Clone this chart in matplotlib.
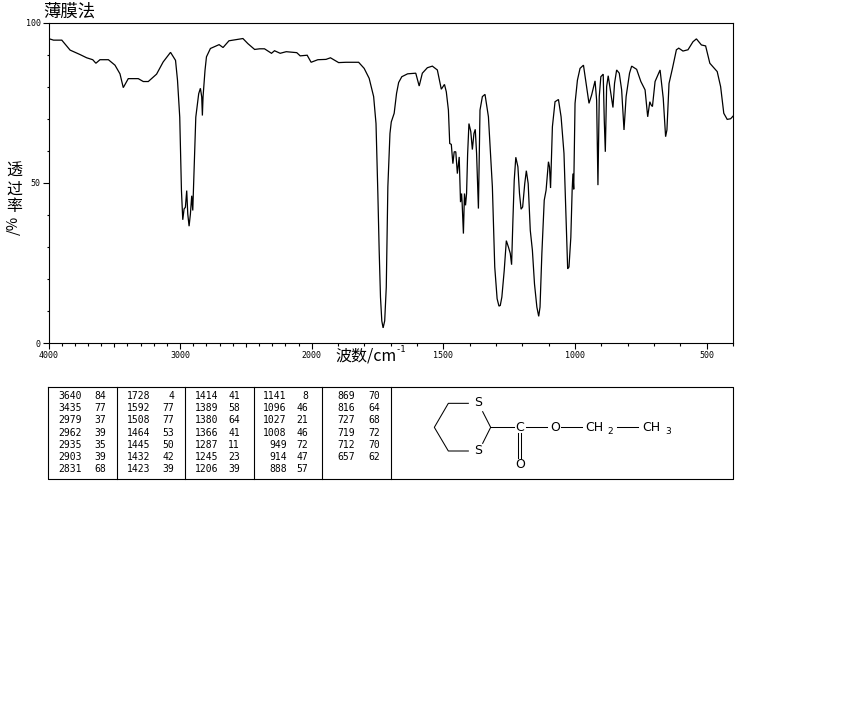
import matplotlib
matplotlib.use("Agg")
import numpy as np
import matplotlib.pyplot as plt
from matplotlib.ticker import FixedLocator, NullFormatter

plt.rcParams['font.family'] = ['Noto Sans CJK SC', 'DejaVu Sans']

W, H = 850, 709

# IR spectrum
wavenumber = [4000,3962,3899,3836,3760,3710,3664,3640,3609,3545,3495,3457,3432,3394,3318,3280,3242,3179,3129,3073,3035,3020,3003,2990,2980,2970,2960,2950,2942,2932,2922,2912,2904,2894,2881,2859,2846,2836,2831,2826,2811,2800,2770,2704,2674,2629,2523,2485,2434,2396,2359,2306,2283,2240,2194,2114,2088,2035,2005,
              1977,1946,1929,1898,1870,1822,1801,1782,1765,1756,1749,1744,1739,1734,1729,1723,1717,1711,1703,1698,1687,1678,1670,1658,1636,1605,1592,1580,1561,1542,1523,1514,1508,1496,1489,1481,1476,1470,1464,1459,1453,1447,1440,1435,1431,1429,1424,1420,1416,1412,1408,1403,1396,1390,1384,1379,1374,1367,1361,1352,1342,1329,1314,1305,1296,1289,1284,1278,1269,1261,1253,1246,1241,1236,1231,1225,1217,1211,1205,1199,1191,1185,1178,1170,1162,1154,1145,1138,1133,1126,1117,1110,1101,1097,1093,1086,1076,1063,1053,1042,1034,1028,1023,1016,1011,1008,1005,1000,991,981,968,958,947,937,924,918,913,908,902,893,889,885,880,874,865,856,850,842,832,823,814,806,793,785,766,750,734,724,716,711,706,696,677,665,656,651,643,630,615,606,590,571,552,539,520,504,488,460,447,435,422,409,400]
transmittance = [95,94.5,94.5,91.4,90,89,88.4,87.3,88.4,88.4,86.7,84,79.7,82.5,82.5,81.6,81.6,83.9,87.7,90.7,88.2,82,70.5,47.6,38.5,41.9,42.4,47.6,40.3,36.5,40.3,46,41.4,53.9,70.5,77.8,79.5,76.8,71,76.8,85.1,89.3,91.9,93.1,92.2,94.3,95,93.4,91.6,91.8,91.8,90.4,91.2,90.4,90.9,90.6,89.6,89.8,87.6,
                 88.4,88.5,89,87.5,87.6,87.6,85.7,82.6,76.9,68.5,46.7,29,14.4,7,4.8,7,17.5,48.8,65.4,69,71.7,77.9,81.3,83.1,84,84.2,80.2,84.2,85.9,86.4,85.2,81.6,79.2,80.7,78.4,72.7,62.3,62,56,59.7,59.7,52.9,58.1,44,46.7,44,34.2,46.7,43,46.7,59,68.5,66,60.4,65.4,66.7,59.2,42,72.7,76.9,77.6,70.6,48.8,23.8,13.9,11.6,11.8,14.4,22.7,32,30,28,24.5,38.3,50.8,58,55,46.7,41.8,42.5,49.8,53.8,49.8,35.2,29,18.5,11.3,8.4,11.3,28,44.6,47.7,56.6,55,48.4,67.5,75.3,76,70.6,59.2,38.3,23.2,23.8,33,47.7,52.9,48,74.8,82,85.7,86.7,81,74.8,77.4,81.8,75.8,49.3,76.9,83.1,83.9,69.6,59.7,80,83.4,78.4,73.5,81,85.2,84.2,79,66.5,76.9,84.2,86.4,85.4,81.6,79,70.6,75.3,74.3,73.8,81.6,85.2,76.4,64.4,66.5,81,85.7,91.5,92,91.1,91.5,94,94.9,93,92.7,87.3,84.7,80,71.7,69.8,70,70.8]

x_major = [4000,3000,2000,1500,1000,500]
x_mid = [3500,2500]
x_minor = [w for w in range(3900,300,-100) if w not in (3500,2500)]
x_labels = ['4000','3000','2000','1500','1000','500']
y_major = [0,50,100]
y_minor = [10,20,30,40,60,70,80,90]
y_labels = ['0','50','100']

title_text = '薄膜法'
ylabel_chars = ['透','过','率']
xlabel_text = '波数/cm'

peak_wn = [['3640','3435','2979','2962','2935','2903','2831'],
           ['1728','1592','1508','1464','1445','1432','1423'],
           ['1414','1389','1380','1366','1287','1245','1206'],
           ['1141','1096','1027','1008','949','914','888'],
           ['869','816','727','719','712','657']]
peak_t = [['84','77','37','39','35','39','68'],
          ['4','77','77','53','50','42','39'],
          ['41','58','64','41','11','23','39'],
          ['8','46','21','46','72','47','57'],
          ['70','64','68','72','70','62']]

# the wavenumber axis has twice the resolution below 2000
def fwd(w):
    w = np.asarray(w, float)
    return np.where(w >= 2000, (w - 2000) * 0.5, w - 2000)
def inv(u):
    u = np.asarray(u, float)
    return np.where(u >= 0, u * 2 + 2000, u + 2000)

fig = plt.figure(figsize=(W/100, H/100), dpi=100, facecolor='white')

# page-pixel overlay for the text, table frame and structure
pg = fig.add_axes([0, 0, 1, 1])
pg.set_xlim(0, W); pg.set_ylim(H, 0); pg.axis('off')

ax = fig.add_axes([48.5/W, 1-343.3/H, (733-48.5)/W, (343.3-22.5)/H])
ax.set_facecolor('none')
ax.set_xscale('function', functions=(fwd, inv))
ax.plot(wavenumber, transmittance, color='black', lw=0.9, solid_joinstyle='miter')
ax.vlines(x_mid, -1.2, 0, color='black', lw=0.8, clip_on=False)
ax.set_xlim(4000, 400); ax.set_ylim(0, 100)
for s in ax.spines.values():
    s.set_linewidth(0.8)
ax.xaxis.set_major_locator(FixedLocator(x_major))
ax.set_xticklabels(x_labels)
ax.xaxis.set_minor_locator(FixedLocator(x_minor))
ax.xaxis.set_minor_formatter(NullFormatter())
ax.yaxis.set_major_locator(FixedLocator(y_major))
ax.set_yticklabels(y_labels)
ax.yaxis.set_minor_locator(FixedLocator(y_minor))
ax.tick_params(axis='both', which='major', length=4.2, width=0.8, labelsize=6, pad=1.5)
ax.tick_params(axis='both', which='minor', length=1.8, width=0.8)
for lab in ax.get_xticklabels() + ax.get_yticklabels():
    lab.set_fontfamily('DejaVu Sans Mono')

pg.text(43, 11.5, title_text, fontsize=12.5, va='center', ha='left')
for ch, yy in zip(ylabel_chars, [171, 189, 206]):
    pg.text(14, yy, ch, fontsize=11.5, ha='center', va='center')
pg.text(14, 225, '/%', fontsize=10.5, ha='center', va='center', rotation=90)
pg.text(335, 356, xlabel_text, fontsize=11.5, ha='left', va='center')
pg.text(395, 349, '-1', fontsize=6.3, ha='left', va='center', fontfamily='DejaVu Sans Mono')

# table frame
pg.plot([48, 733, 733, 48, 48], [386.5, 386.5, 478.5, 478.5, 386.5], color='black', lw=0.8)
for xv in [117.5, 185.5, 254.5, 322.5, 391.5]:
    pg.plot([xv, xv], [386.5, 478.5], color='black', lw=0.8)
row_y = [395.7, 408, 420.2, 432.5, 445, 457.2, 469.3]
wn_right = [81.7, 150, 218.3, 286.7, 355]
t_right = [105.7, 174, 240, 308, 380]
for wc, tc, xa, xb in zip(peak_wn, peak_t, wn_right, t_right):
    for a, b, yy in zip(wc, tc, row_y):
        pg.text(xa, yy, a, fontsize=7, ha='right', va='center', fontfamily='DejaVu Sans Mono')
        pg.text(xb, yy, b, fontsize=7, ha='right', va='center', fontfamily='DejaVu Sans Mono')

# structure
def Z(pts):
    return [390 + p[0]/3 for p in pts], [380 + p[1]/3 for p in pts]
for seg in [[(235,70),(175,70),(133,142),(175,213),(235,213)],
            [(278,95),(302,142),(278,190)],
            [(302,142),(372,142)], [(408,142),(470,142)], [(512,142),(575,142)],
            [(680,142),(745,142)], [(383,160),(383,235)], [(392,160),(392,235)]]:
    xs, ys = Z(seg)
    pg.plot(xs, ys, color='black', lw=0.75)
for lab, zx, zy in [('S',265,68),('S',265,212),('C',390,142),('O',495,142),('O',390,255)]:
    pg.text(390+zx/3, 380+zy/3, lab, fontsize=9, ha='center', va='center', fontfamily='DejaVu Sans')
pg.text(390+585/3, 380+142/3, 'CH', fontsize=9, ha='left', va='center', fontfamily='DejaVu Sans')
pg.text(390+652/3, 380+154/3, '2', fontsize=6.5, ha='left', va='center', fontfamily='DejaVu Sans')
pg.text(390+756/3, 380+142/3, 'CH', fontsize=9, ha='left', va='center', fontfamily='DejaVu Sans')
pg.text(390+825/3, 380+154/3, '3', fontsize=6.5, ha='left', va='center', fontfamily='DejaVu Sans')

fig.savefig('out.png', dpi=100, facecolor='white')
